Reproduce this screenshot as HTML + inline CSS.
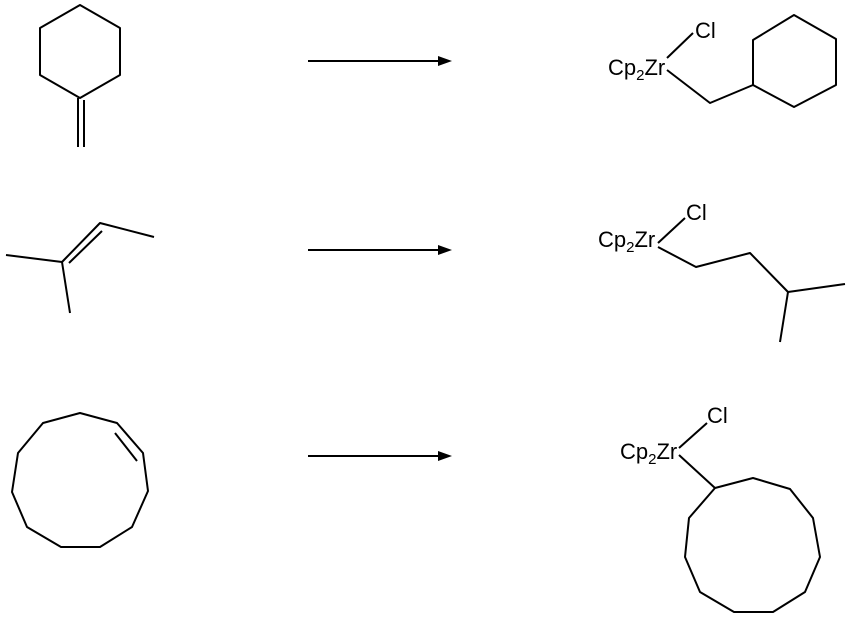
<!DOCTYPE html>
<html><head><meta charset="utf-8"><style>html,body{margin:0;padding:0;background:#fff}svg{display:block}</style></head>
<body>
<svg width="850" height="619" viewBox="0 0 850 619" xmlns="http://www.w3.org/2000/svg">
<g fill="none" stroke="#000" stroke-width="2" stroke-linejoin="round">
<polygon points="80,5 120,28 120,75 80,98 40,75 40,28"/>
<line x1="78" y1="98" x2="78" y2="147"/><line x1="84" y1="100" x2="84" y2="147"/>
<polyline points="6,255 62,262 100,223 154,237"/>
<line x1="62" y1="262" x2="70" y2="313"/>
<line x1="69" y1="263" x2="102" y2="231"/>
<polygon points="80,413 117,423 143,453 148,491 132,527 100,547 61,547 27,527 12,492 18,453 43,423"/>
<line x1="115" y1="433" x2="137" y2="461"/>
<line x1="308" y1="61" x2="440" y2="61"/>
<line x1="308" y1="250" x2="440" y2="250"/>
<line x1="308" y1="456" x2="440" y2="456"/>
<line x1="667" y1="58" x2="693" y2="33"/>
<polyline points="667,70 710,103 753,85"/>
<polygon points="753,40 753,85 794,107 836,85 836,39 794,15"/>
<line x1="658" y1="243" x2="685" y2="218"/>
<polyline points="658,247 696,267 750,253 788,292 845,284"/>
<line x1="788" y1="292" x2="780" y2="342"/>
<line x1="679" y1="448" x2="707" y2="423"/>
<line x1="679" y1="455" x2="715" y2="488"/>
<polygon points="715,488 753,478 790,489 813,518 820,557 805,592 773,612 734,612 700,592 685,557 689,518"/>
</g>
<g fill="#000">
<polygon points="452,61 438,56 438,66"/>
<polygon points="452,250 438,245 438,255"/>
<polygon points="452,456 438,451 438,461"/>
</g>
<g font-family="Liberation Sans, Arial, sans-serif" font-size="22" fill="#000">
<text x="695" y="38">Cl</text>
<text x="608" y="75">Cp<tspan font-size="15" dy="5">2</tspan><tspan dy="-5">Zr</tspan></text>
<text x="686" y="220">Cl</text>
<text x="598" y="247">Cp<tspan font-size="15" dy="5">2</tspan><tspan dy="-5">Zr</tspan></text>
<text x="707" y="423">Cl</text>
<text x="620" y="459">Cp<tspan font-size="15" dy="5">2</tspan><tspan dy="-5">Zr</tspan></text>
</g>
</svg>
</body></html>
